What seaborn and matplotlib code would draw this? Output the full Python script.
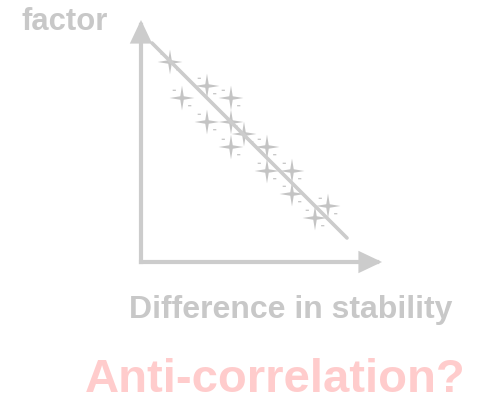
import numpy as np
import pandas as pd
import matplotlib
matplotlib.use("Agg")
import matplotlib.pyplot as plt
from matplotlib.path import Path
import seaborn as sns

# Data (schematic units: difference in stability vs factor)
stability = [2.9, 6.6, 4.1, 9.0, 6.6, 9.0, 10.3, 9.0, 12.6, 12.6, 15.1, 15.1, 18.7, 17.4]
factor = [20.0, 17.6, 16.4, 16.4, 14.0, 14.0, 12.8, 11.5, 11.5, 9.1, 9.1, 6.8, 5.6, 4.4]
trend_x = [1.1, 20.6]
trend_y = [21.9, 2.4]

x_label = "Difference in stability"
y_label = "factor"
title = "Anti-correlation?"

GRAY = "#cccccc"
TEXT_GRAY = "#c8c8c8"
PINK = "#ffcccc"

sns.set_theme(style="white")
plt.rcParams['font.family'] = ['Liberation Sans', 'DejaVu Sans']

# sparkle marker: 4-pointed concave star plus two tiny dashes
def sparkle_path():
    verts, codes = [], []
    r, k = 1.0, 0.14
    star = [(0, r), (k, k), (r, 0), (k, -k), (0, -r), (-k, -k), (-r, 0), (-k, k)]
    verts += star + [(0, 0)]
    codes += [Path.MOVETO] + [Path.LINETO] * 7 + [Path.CLOSEPOLY]
    for cx, cy in [(-0.62, 0.62), (0.62, -0.62)]:
        w, h = 0.13, 0.05
        verts += [(cx - w, cy - h), (cx + w, cy - h), (cx + w, cy + h), (cx - w, cy + h), (0, 0)]
        codes += [Path.MOVETO, Path.LINETO, Path.LINETO, Path.LINETO, Path.CLOSEPOLY]
    return Path(verts, codes)

fig = plt.figure(figsize=(4.81, 3.99), dpi=100)
ax = fig.add_axes([0, 0, 1, 1])
ax.set_xlim(-14.1, 34.0)
ax.set_ylim(-13.7, 26.2)
ax.set_axis_off()

df = pd.DataFrame({"x": stability, "y": factor})
sns.scatterplot(data=df, x="x", y="y", marker=sparkle_path(), s=320,
                color="#c4c4c4", edgecolor="none", linewidth=0, ax=ax, zorder=3)

tdf = pd.DataFrame({"x": trend_x, "y": trend_y})
sns.lineplot(data=tdf, x="x", y="y", color=GRAY, linewidth=2.6, ax=ax, zorder=4)

# axis arrows
arrow_style = "-|>,head_length=0.8,head_width=0.38"
for tip in [(24.1, 0), (0, 24.2)]:
    ax.annotate("", xy=tip, xytext=(0, 0),
                arrowprops=dict(arrowstyle=arrow_style, color=GRAY, lw=3,
                                shrinkA=0, shrinkB=0, mutation_scale=15,
                                capstyle="projecting", joinstyle="miter"),
                zorder=2)

W, H = 481, 399
fig.text(22 / W, (H - 30) / H, y_label, fontsize=22.3, fontweight="bold",
         color=TEXT_GRAY, ha="left", va="baseline")
fig.text(291 / W, (H - 318) / H, x_label, fontsize=23, fontweight="bold",
         color=TEXT_GRAY, ha="center", va="baseline")
fig.text(275 / W, (H - 392) / H, title, fontsize=34, fontweight="bold",
         color=PINK, ha="center", va="baseline")

fig.savefig("out.png", dpi=100)
